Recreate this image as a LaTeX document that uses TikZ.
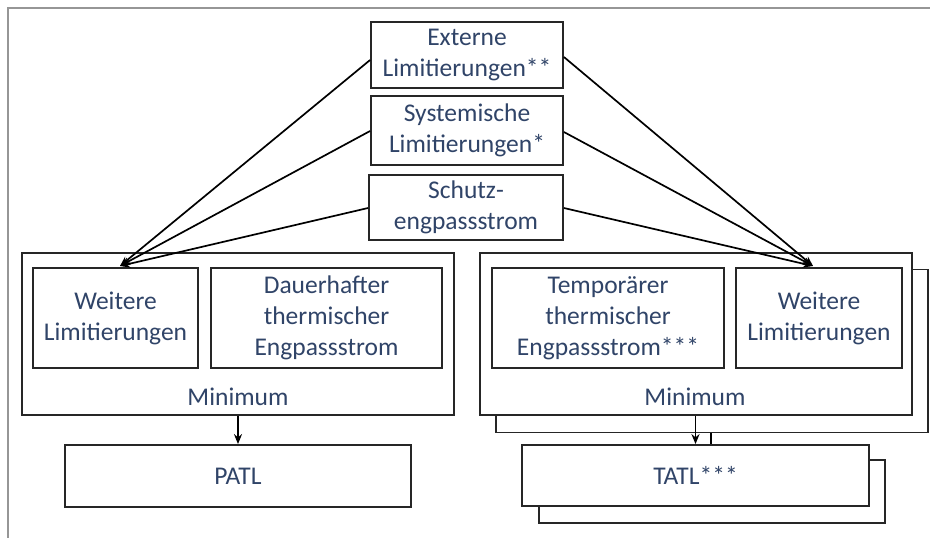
\documentclass[tikz,border=0pt]{standalone}
\usepackage{fontspec}
\setmainfont{Carlito}
\usetikzlibrary{arrows.meta}
\definecolor{txt}{RGB}{48,68,104}
\definecolor{frame}{RGB}{150,150,150}
\begin{document}
\begin{tikzpicture}[x=1pt,y=-1pt,
  box/.style={draw=black!85,line width=1.8pt,fill=white,rectangle,inner sep=0pt,align=center,
    text=txt,font=\fontsize{25.5}{31}\selectfont},
  conn/.style={line width=1.7pt,-{Stealth[length=10pt,width=8pt]}},
  lbl/.style={text=txt,font=\fontsize{25.5}{31}\selectfont,inner sep=0pt}]
\useasboundingbox (0,0) rectangle (930,538);
\fill[white] (0,0) rectangle (930,538);
\draw[frame,line width=1.6pt] (8,538) -- (8,8) -- (930,8);
% top boxes
\node[box,minimum width=192pt,minimum height=66pt] (ext) at (467,55) {Externe\\Limitierungen**};
\node[box,minimum width=192pt,minimum height=69pt] (sys) at (467,130.5) {Systemische\\Limitierungen*};
\node[box,minimum width=194pt,minimum height=65pt] (sch) at (466,207.5) {Schutz-\\engpassstrom};
% left group
\node[box,minimum width=432pt,minimum height=162pt] (lbig) at (238,334) {};
\node[lbl] (lmin) at (238,397) {Minimum};
\node[box,minimum width=165pt,minimum height=100pt] (lw) at (115.5,318) {Weitere\\Limitierungen};
\node[box,minimum width=231pt,minimum height=100pt] (dau) at (326.5,318) {Dauerhafter\\thermischer\\Engpassstrom};
\node[box,minimum width=346pt,minimum height=62pt] (patl) at (238,476) {PATL};
% right group
\node[box,minimum width=432pt,minimum height=163pt] (rsh) at (712,351) {};
\node[box,minimum width=432pt,minimum height=162pt] (rbig) at (696,334) {};
\node[lbl] (rmin) at (695,397) {Minimum};
\node[box,minimum width=232pt,minimum height=100pt] (tmp) at (608,318) {Temporärer\\thermischer\\Engpassstrom***};
\node[box,minimum width=166pt,minimum height=100pt] (rw) at (819,318) {Weitere\\Limitierungen};
\node[box,minimum width=346pt,minimum height=63pt] (tsh) at (712,491.5) {};
\coordinate (shtop) at (711,445);
\draw[line width=1.7pt] (rsh.south -| shtop) -- (shtop);
\node[box,minimum width=347pt,minimum height=61pt] (tatl) at (695.5,475.5) {TATL***};
% converging arrows
\coordinate (lt) at (120,266);
\coordinate (rt) at (813,266);
\draw[conn] (ext.west |- 0,60) -- (lt);
\draw[conn] (sys.west |- 0,131) -- (lt);
\draw[conn] (sch.west |- 0,208) -- (lt);
\draw[conn] (ext.east |- 0,57) -- (rt);
\draw[conn] (sys.east |- 0,132) -- (rt);
\draw[conn] (sch.east |- 0,208) -- (rt);
% minimum arrows
\draw[conn] (lbig.south) -- (patl.north);
\draw[conn] (rbig.south -| tatl.north) -- (tatl.north);
\end{tikzpicture}
\end{document}
